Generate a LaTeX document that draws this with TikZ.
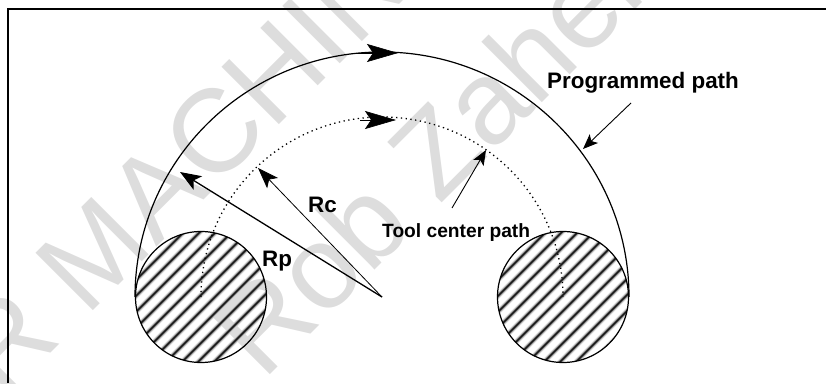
\documentclass[tikz,border=0pt]{standalone}
\usepackage{fontspec}
\setmainfont{Liberation Sans}
\usetikzlibrary{arrows.meta}
\definecolor{wm}{HTML}{DDDDDD}
\tikzset{
  wmark/.style={text=wm,inner sep=0pt,anchor=base west,rotate=45,font=\fontsize{118}{118}\selectfont},
  lab/.style={inner sep=0pt,anchor=base west,font=\bfseries\fontsize{22.4}{24}\selectfont},
  labs/.style={inner sep=0pt,anchor=base west,font=\bfseries\fontsize{19.2}{22}\selectfont},
  hatchsoft/.style={line width=5pt,color=black!15},
  hatchmid/.style={line width=3.2pt,color=black!40},
  hatchcore/.style={line width=1.6pt,color=black!90},
  disc/.style={line width=1.2pt},
  solidarc/.style={line width=1.2pt},
  dotarc/.style={line width=1.3pt,dash pattern=on 1.3pt off 3.5pt},
  bigtip/.style={-{Stealth[length=31pt,width=18pt,inset=6pt]},line width=.6pt},
  radp/.style={-{Stealth[length=21pt,width=16pt,inset=5pt]},line width=1.3pt},
  radc/.style={-{Stealth[length=21pt,width=15pt,inset=5pt]},line width=.8pt},
  lead/.style={-{Stealth[length=15pt,width=12pt,inset=3.5pt]},line width=.9pt},
}
\begin{document}
\begin{tikzpicture}[x=1pt,y=1pt]
\useasboundingbox (0,0) rectangle (826,383);
\clip (0,0) rectangle (826,383);
% watermark
\node[wmark] (wa) at (3.4,-17.6) {R MACHIN};
\node[wmark] (wb) at (263,1) {Rob Zaher};
% frame
\coordinate (fa) at (8,0);
\coordinate (fb) at (8,374);
\coordinate (fc) at (826,374);
\draw[line width=1.5pt] (fa) -- (fb) -- (fc);
% circles
\coordinate (cl) at (201,86);
\coordinate (cr) at (563,86);
\coordinate (apex) at (382,86);
\foreach \c in {cl,cr}{
  \begin{scope}
    \clip (\c) circle (65.5);
    \foreach \st in {hatchsoft,hatchmid,hatchcore}{
      \foreach \k in {-8,...,8}{
        \draw[\st] ([shift={(-82+\k*16,-80)}]\c) -- ([shift={(78+\k*16,80)}]\c);
      }
    }
  \end{scope}
  \draw[disc] (\c) circle (65.5);
}
% paths
\coordinate (ol) at (135,86);
\coordinate (il) at (201,86);
\draw[solidarc] (ol) arc[start angle=180,end angle=0,x radius=247,y radius=245];
\draw[dotarc] (il) arc[start angle=180,end angle=0,x radius=181,y radius=180];
% direction arrowheads
\coordinate (a1) at (355,330);
\coordinate (a2) at (398,330);
\coordinate (b1) at (360,263);
\coordinate (b2) at (396,263);
\draw[bigtip] (a1) -- (a2);
\draw[bigtip] (b1) -- (b2);
% radii
\coordinate (rp) at (180,211);
\coordinate (rc) at (258,215);
\draw[radp] (apex) -- (rp);
\draw[radc] (apex) -- (rc);
% leaders
\coordinate (pa) at (631,280);
\coordinate (pb) at (583,234);
\coordinate (ta) at (452,175);
\coordinate (tb) at (486,233);
\draw[lead] (pa) -- (pb);
\draw[lead] (ta) -- (tb);
% labels
\node[lab] (lp) at (547,294) {Programmed path};
\node[labs] (lt) at (382,146) {Tool center path};
\node[lab] (lc) at (308,170) {Rc};
\node[lab] (lr) at (262,117) {Rp};
\end{tikzpicture}
\end{document}
